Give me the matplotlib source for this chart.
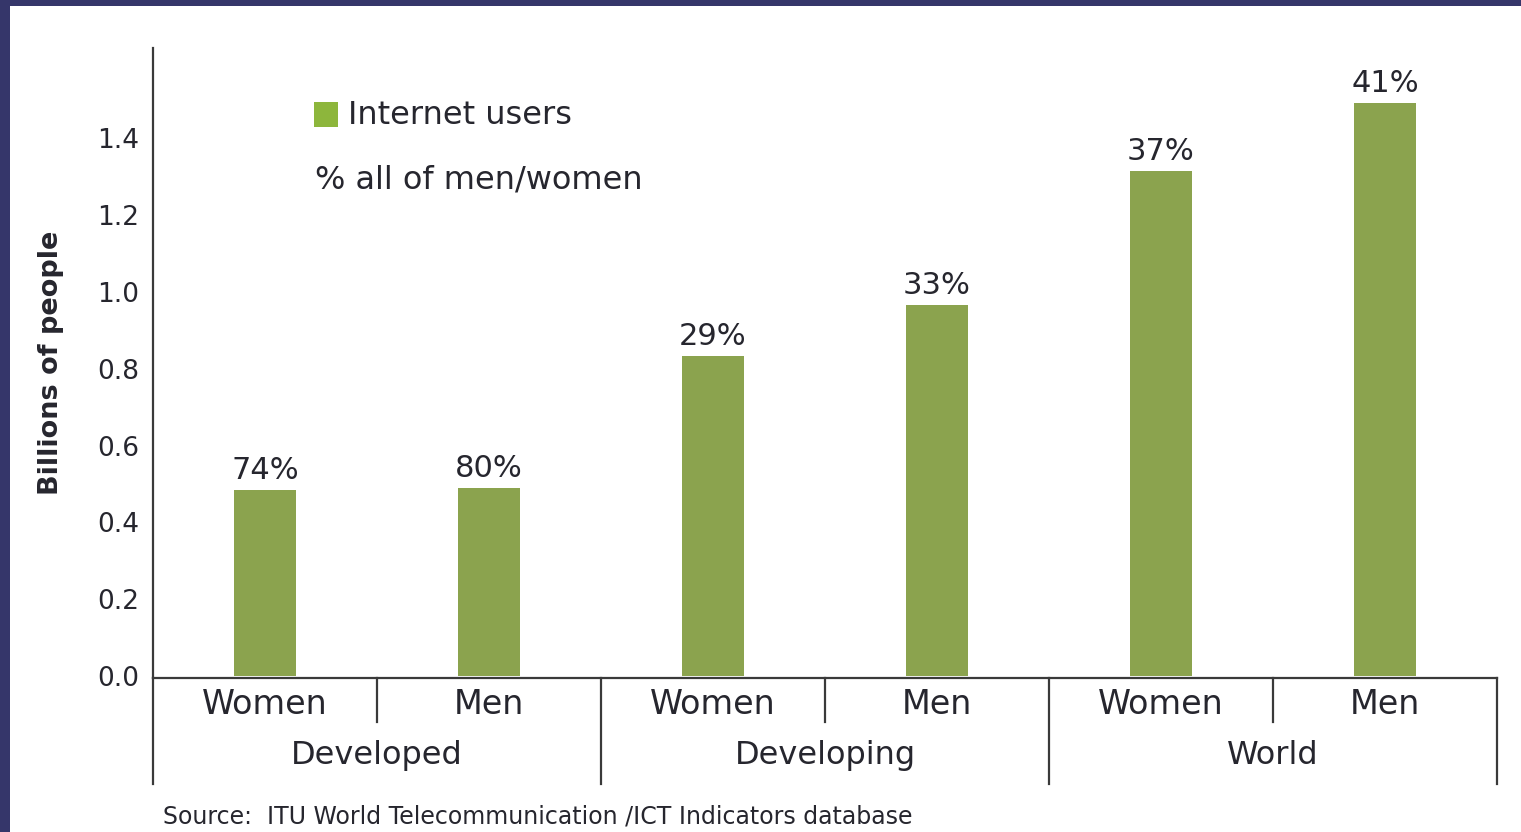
import matplotlib
matplotlib.use("Agg")
import matplotlib.pyplot as plt
from matplotlib.patches import Rectangle
import matplotlib.transforms as mtransforms

# data
groups = ["Developed", "Developing", "World"]
sexes = ["Women", "Men"]
users = [0.484, 0.489, 0.833, 0.965, 1.314, 1.491]  # billions of people
shares = ["74%", "80%", "29%", "33%", "37%", "41%"]
yticks = [0.0, 0.2, 0.4, 0.6, 0.8, 1.0, 1.2, 1.4]

bar_color = "#8ba34e"
legend_color = "#8db63c"
text_color = "#26262e"
line_color = "#3a3a3a"
navy = "#35366a"

plt.rcParams['font.family'] = ['DejaVu Sans']

fig = plt.figure(figsize=(15.21, 8.32), dpi=100)
fig.patch.set_facecolor(navy)
# white page inside the navy frame
fig.add_artist(Rectangle((10 / 1521, 0), 1, 826 / 832, transform=fig.transFigure,
                         facecolor="white", edgecolor="none", zorder=0))

ax = fig.add_axes([153 / 1521, 1 - 678 / 832, (1497 - 153) / 1521, (678 - 48) / 832])
ax.set_facecolor("white")

n = len(users)
xs = [i + 0.5 for i in range(n)]
ax.bar(xs, users, width=0.28, color=bar_color, zorder=2)

for x, v, s in zip(xs, users, shares):
    ax.text(x, v + 0.014, s, ha="center", va="bottom", fontsize=22, color=text_color)

ax.set_xlim(0, n)
ax.set_ylim(-0.005, 1.635)
ax.set_yticks(yticks)
ax.set_yticklabels([f"{t:.1f}" for t in yticks])
ax.tick_params(axis="y", length=0, pad=10, labelsize=19, labelcolor=text_color)
ax.set_xticks([])

for side in ["top", "right"]:
    ax.spines[side].set_visible(False)
for side in ["left", "bottom"]:
    ax.spines[side].set_color(line_color)
    ax.spines[side].set_linewidth(1.6)

ax.set_ylabel("Billions of people", fontsize=19.5, fontweight="bold", color=text_color, labelpad=24)

# two-level category axis below the bars
trans = mtransforms.blended_transform_factory(ax.transData, ax.transAxes)
for i in range(n):
    ax.text(xs[i], -0.042, sexes[i % 2], transform=trans, ha="center", va="center",
            fontsize=24, color=text_color)
for g, name in enumerate(groups):
    ax.text(2 * g + 1, -0.123, name, transform=trans, ha="center", va="center",
            fontsize=23, color=text_color)
    ax.plot([2 * g + 1, 2 * g + 1], [0, -0.07], transform=trans, color=line_color,
            lw=1.6, clip_on=False)
for b in range(0, n + 1, 2):
    ax.plot([b, b], [0, -0.168], transform=trans, color=line_color, lw=1.6, clip_on=False)

# legend-like notes
fig.add_artist(Rectangle((314 / 1521, 1 - 127 / 832), 24 / 1521, 25 / 832,
                         transform=fig.transFigure, facecolor=legend_color, edgecolor="none"))
fig.text(348 / 1521, 1 - 115 / 832, "Internet users", fontsize=23, color=text_color,
         ha="left", va="center")
fig.text(315 / 1521, 1 - 180 / 832, "% all of men/women", fontsize=23, color=text_color,
         ha="left", va="center")

fig.text(163 / 1521, 1 - 816 / 832, "Source:  ITU World Telecommunication /ICT Indicators database",
         fontsize=17, color=text_color, ha="left", va="center",
         family=["Liberation Sans Narrow", "DejaVu Sans Condensed", "DejaVu Sans"])

fig.savefig("out.png", dpi=100, facecolor=fig.get_facecolor())
